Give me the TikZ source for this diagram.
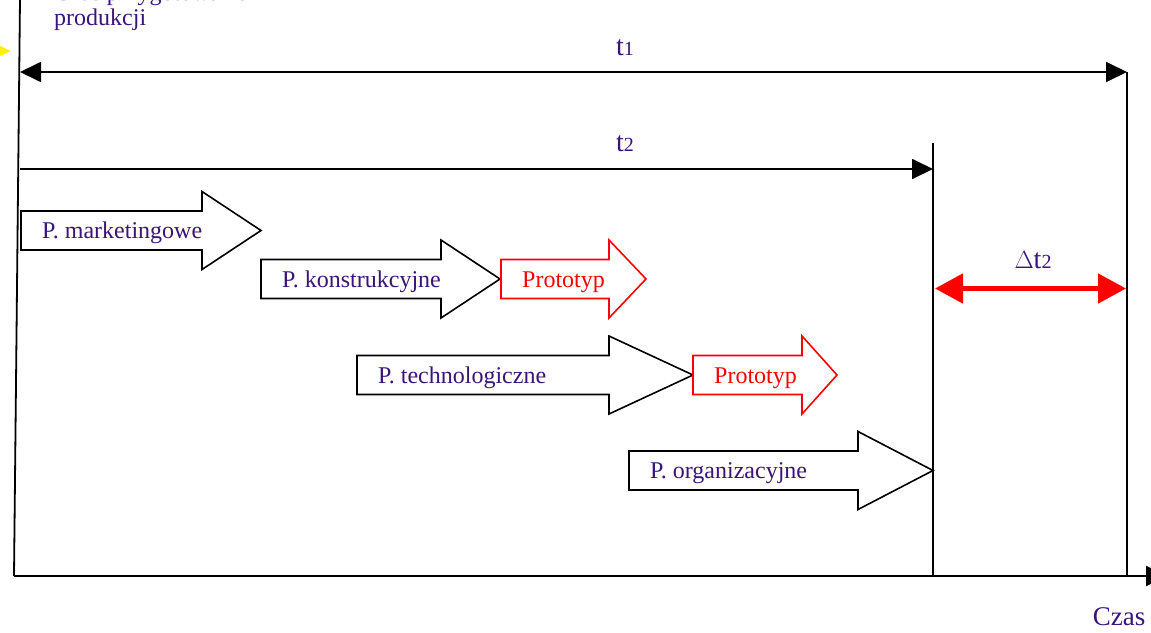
\documentclass[tikz,border=0pt]{standalone}
\usepackage{fontspec}
\setmainfont{Liberation Serif}
\usetikzlibrary{arrows.meta}
\definecolor{ink}{RGB}{58,20,120}
\definecolor{warn}{RGB}{255,0,0}

% block arrow: left x, head x, tip x, centre y, colour, name, text
\newcommand\blockarrow[7]{%
  \draw[blockline,draw=#5] (#1,#4-19.5) -- (#2,#4-19.5) -- (#2,#4-39) -- (#3,#4)
    -- (#2,#4+39) -- (#2,#4+19.5) -- (#1,#4+19.5) -- cycle;
  \node[lbl,text=#5,anchor=base west] (#6) at (#1+21,#4+8) {#7};}

\tikzset{
  axis/.style={line width=1.8pt,black},
  blockline/.style={line width=1.6pt,fill=white,line join=miter},
  lbl/.style={inner sep=0pt,font=\fontsize{24}{26}\selectfont},
  biglbl/.style={inner sep=0pt,text=ink,anchor=base,font=\fontsize{28}{30}\selectfont},
  span/.style={line width=1.8pt,-{Triangle[length=21pt,width=20pt]}},
  spanboth/.style={line width=1.8pt,{Triangle[length=21pt,width=20pt]}-{Triangle[length=21pt,width=20pt]}},
  delta/.style={line width=5pt,warn,{Triangle[length=28pt,width=29pt]}-{Triangle[length=28pt,width=29pt]}},
}
\newcommand\idx[1]{\raisebox{-0.5pt}{\fontsize{20}{20}\selectfont #1}}

\begin{document}
\begin{tikzpicture}[x=1pt,y=-1pt]
\useasboundingbox (0,0) rectangle (1151,632);
\clip (0,0) rectangle (1151,632);
\fill[white] (0,0) rectangle (1151,632);

% axes
\coordinate (origin) at (14,576);
\coordinate (ytop) at (20.2,-20);
\coordinate (xend) at (1168,576);
\draw[axis] (origin) -- (ytop);
\draw[axis,-{Triangle[length=22pt,width=20pt]}] (origin) -- (xend);
\fill[yellow] (11,51) -- (-11,41) -- (-11,61) -- cycle;

\node[lbl,text=ink,anchor=base west,align=left] (ylab) at (54,25)
  {Czas przygotowania\\[-1pt]produkcji};
\node[lbl,text=ink,font=\fontsize{27}{29}\selectfont,anchor=base] (xlab) at (1119,625) {Czas};

% time limits
\coordinate (t1a) at (20,72);
\coordinate (t1b) at (1127,72);
\coordinate (t1bot) at (1127,576);
\coordinate (t2a) at (20,169);
\coordinate (t2b) at (933,169);
\coordinate (t2top) at (933,143);
\coordinate (t2bot) at (933,576);
\draw[axis] (t1b) -- (t1bot);
\draw[axis] (t2top) -- (t2bot);
\draw[spanboth] (t1a) -- (t1b);
\draw[span] (t2a) -- (t2b);
\node[biglbl] (t1lab) at (625,55) {t\idx{1}};
\node[biglbl] (t2lab) at (625,151) {t\idx{2}};

% time saved
\coordinate (da) at (935,288.5);
\coordinate (db) at (1126,288.5);
\draw[delta] (da) -- (db);
\node[biglbl] (dlab) at (1033,268) {$\Delta$t\idx{2}};

% preparation phases
\blockarrow{21}{202}{261}{230.5}{black}{mark}{\textcolor{ink}{P. marketingowe}}
\blockarrow{261}{441}{500}{279}{black}{kons}{\textcolor{ink}{P. konstrukcyjne}}
\blockarrow{501}{609}{646}{279}{warn}{proto1}{Prototyp}
\blockarrow{357}{609}{693}{375}{black}{tech}{\textcolor{ink}{P. technologiczne}}
\blockarrow{693}{802}{837}{375}{warn}{proto2}{Prototyp}
\blockarrow{629}{858}{933}{470.5}{black}{org}{\textcolor{ink}{P. organizacyjne}}
\end{tikzpicture}
\end{document}
